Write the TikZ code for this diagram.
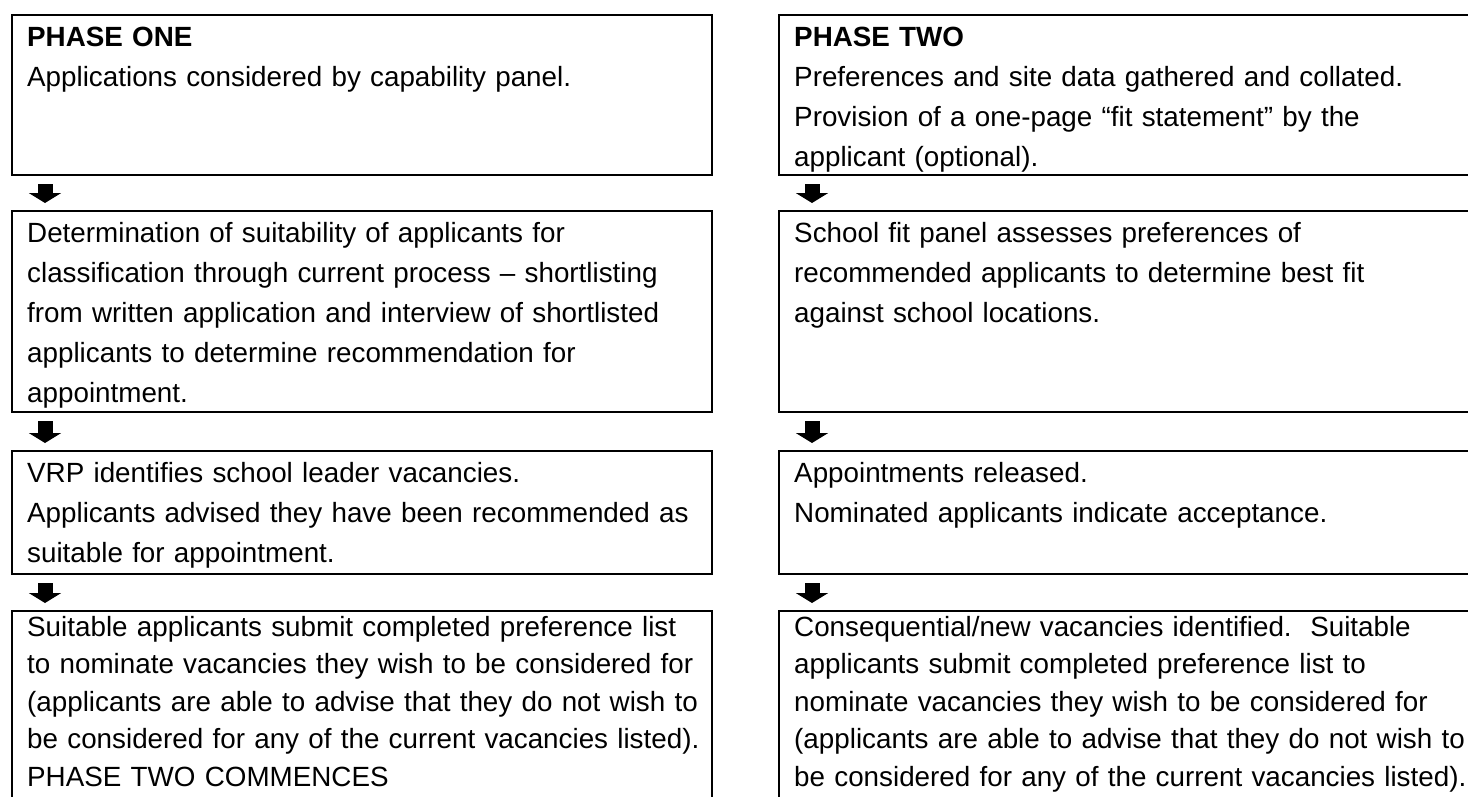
\documentclass[tikz,border=0pt]{standalone}
\usepackage{fontspec}
\setmainfont{Liberation Sans}
\usetikzlibrary{calc,arrows.meta}
% fixed-height strut so every text block starts at a known baseline
\newcommand{\lnstart}{\rule{0pt}{30pt}}
\begin{document}
\begin{tikzpicture}[x=1pt,y=-1pt,
  stagebox/.style={draw=black, line width=2pt, rectangle, anchor=north west, inner sep=0pt},
  lbox/.style={stagebox, minimum width=700pt},
  rbox/.style={stagebox, minimum width=760pt},
  txt/.style={anchor=north west, inner sep=0pt, align=left, text width=700pt,
    font=\fontsize{27.8}{40}\selectfont},
  txtlow/.style={txt, font=\fontsize{27.8}{37.5}\selectfont},
  flowarrow/.style={line width=15pt, -{Triangle[width=32pt,length=10pt]}}
]
\useasboundingbox (0,0) rectangle (1468,796);
\clip (0,0) rectangle (1468,796);

% ---- left column: phase one ----
\node[lbox, minimum height=160pt] (l1) at (11,14) {};
\node[lbox, minimum height=201pt] (l2) at (11,210) {};
\node[lbox, minimum height=123pt] (l3) at (11,450) {};
\node[lbox, minimum height=260pt] (l4) at (11,610) {};

\node[txt] (l1t) at ($(l1.north west)+(16,2)$) {\lnstart\textbf{PHASE ONE}\\
  Applications considered by capability panel.};
\node[txt] (l2t) at ($(l2.north west)+(16,2)$) {\lnstart Determination of suitability of applicants for\\
  classification through current process -- shortlisting\\
  from written application and interview of shortlisted\\
  applicants to determine recommendation for\\
  appointment.};
\node[txt] (l3t) at ($(l3.north west)+(16,2)$) {\lnstart VRP identifies school leader vacancies.\\
  Applicants advised they have been recommended as\\
  suitable for appointment.};
\node[txtlow] (l4t) at ($(l4.north west)+(16,-4)$) {\lnstart Suitable applicants submit completed preference list\\
  to nominate vacancies they wish to be considered for\\
  (applicants are able to advise that they do not wish to\\
  be considered for any of the current vacancies listed).\\
  PHASE TWO COMMENCES};

% ---- right column: phase two ----
\node[rbox, minimum height=160pt] (r1) at (778,14) {};
\node[rbox, minimum height=201pt] (r2) at (778,210) {};
\node[rbox, minimum height=123pt] (r3) at (778,450) {};
\node[rbox, minimum height=260pt] (r4) at (778,610) {};

\node[txt] (r1t) at ($(r1.north west)+(16,2)$) {\lnstart\textbf{PHASE TWO}\\
  Preferences and site data gathered and collated.\\
  Provision of a one-page ``fit statement'' by the\\
  applicant (optional).};
\node[txt] (r2t) at ($(r2.north west)+(16,2)$) {\lnstart School fit panel assesses preferences of\\
  recommended applicants to determine best fit\\
  against school locations.};
\node[txt] (r3t) at ($(r3.north west)+(16,2)$) {\lnstart Appointments released.\\
  Nominated applicants indicate acceptance.};
\node[txtlow] (r4t) at ($(r4.north west)+(16,-4)$) {\lnstart Consequential/new vacancies identified.\ \ Suitable\\
  applicants submit completed preference list to\\
  nominate vacancies they wish to be considered for\\
  (applicants are able to advise that they do not wish to\\
  be considered for any of the current vacancies listed).};

% ---- downward arrows between stages ----
\foreach \a/\b in {l1/l2, l2/l3, l3/l4, r1/r2, r2/r3, r3/r4}
  \draw[flowarrow] ($(\a.south west)+(34,8)$) -- ($(\b.north west)+(34,-7)$);
\end{tikzpicture}
\end{document}
